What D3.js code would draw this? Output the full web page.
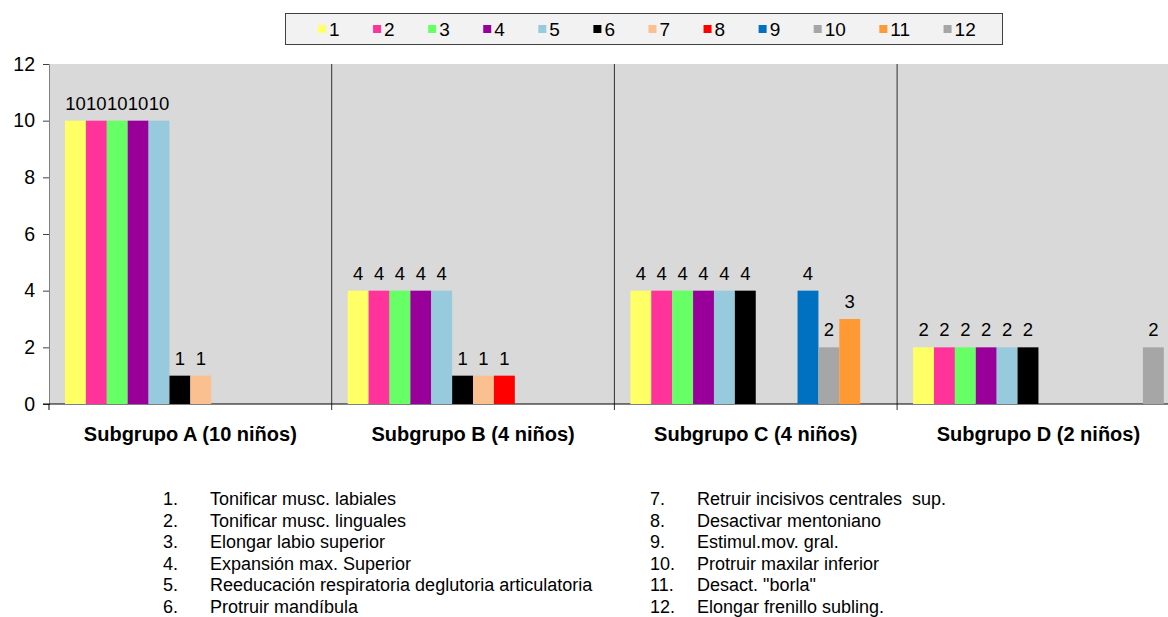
<!DOCTYPE html>
<html>
<head>
<meta charset="utf-8">
<script src="https://d3js.org/d3.v7.min.js"></script>
<style>
  body { margin: 0; background: #fff; }
  svg text { font-family: Arial, "Liberation Sans", sans-serif; fill: #000; white-space: pre; }
</style>
</head>
<body>
<script>
// chart data
const groups = ['Subgrupo A (10 niños)', 'Subgrupo B (4 niños)', 'Subgrupo C (4 niños)', 'Subgrupo D (2 niños)'];
const seriesNames = ['1','2','3','4','5','6','7','8','9','10','11','12'];
const seriesColors = ['#ffff66','#ff3399','#66ff66','#990099','#96cadc','#000000','#fac090','#ff0000','#0070c0','#a6a6a6','#ff9933','#a6a6a6'];
const valuesA = [10,10,10,10,10,1,1,0,0,0,0,0];
const valuesB = [4,4,4,4,4,1,1,1,0,0,0,0];
const valuesC = [4,4,4,4,4,4,0,0,4,2,3,0];
const valuesD = [2,2,2,2,2,2,0,0,0,0,0,2];
const yTicks = [0,2,4,6,8,10,12];
const notesLeft = ['Tonificar musc. labiales','Tonificar musc. linguales','Elongar labio superior','Expansión max. Superior','Reeducación respiratoria deglutoria articulatoria','Protruir mandíbula'];
const notesRight = ['Retruir incisivos centrales  sup.','Desactivar mentoniano','Estimul.mov. gral.','Protruir maxilar inferior','Desact. "borla"','Elongar frenillo subling.'];

const allValues = [valuesA, valuesB, valuesC, valuesD];

const W = 1168, H = 617;
const plotLeft = 49, plotTop = 64, plotBottom = 404, groupW = 282.7;

const svg = d3.select('body').append('svg').attr('width', W).attr('height', H);

const x = d3.scaleBand().domain(groups).range([plotLeft, plotLeft + groupW * groups.length]);
const xs = d3.scaleBand().domain(seriesNames).range([16, groupW - 16]);
const y = d3.scaleLinear().domain([0, 12]).range([plotBottom, plotTop]);

// plot background
svg.append('rect')
  .attr('x', plotLeft).attr('y', plotTop)
  .attr('width', groupW * groups.length).attr('height', plotBottom - plotTop)
  .attr('fill', '#d9d9d9');

// y axis
const yAxis = svg.append('g')
  .attr('transform', `translate(${plotLeft},0)`)
  .call(d3.axisLeft(y).tickValues(yTicks).tickSize(6).tickPadding(8));
yAxis.select('.domain').attr('stroke', '#808080');
yAxis.selectAll('.tick line').attr('stroke', '#404040');
yAxis.selectAll('.tick text').style('font-size', '19.5px').attr('fill', '#000');

// group separators
svg.append('g').selectAll('line')
  .data(groups.slice(1))
  .join('line')
  .attr('x1', d => x(d)).attr('x2', d => x(d))
  .attr('y1', plotTop).attr('y2', plotBottom + 6)
  .attr('stroke', '#303030');

// baseline
svg.append('line')
  .attr('x1', plotLeft - 6).attr('x2', W)
  .attr('y1', plotBottom).attr('y2', plotBottom)
  .attr('stroke', '#000');
svg.append('line')
  .attr('x1', plotLeft).attr('x2', plotLeft)
  .attr('y1', plotBottom).attr('y2', plotBottom + 6)
  .attr('stroke', '#000');

// bars
const gGroups = svg.append('g').selectAll('g')
  .data(groups)
  .join('g')
  .attr('transform', d => `translate(${x(d)},0)`);

gGroups.each(function(g, gi) {
  const vals = allValues[gi].map((v, i) => ({ s: seriesNames[i], v: v, c: seriesColors[i] })).filter(d => d.v > 0);
  const sel = d3.select(this);
  sel.selectAll('rect')
    .data(vals)
    .join('rect')
    .attr('x', d => xs(d.s))
    .attr('y', d => y(d.v))
    .attr('width', xs.bandwidth())
    .attr('height', d => y(0) - y(d.v))
    .attr('fill', d => d.c);
  sel.selectAll('text')
    .data(vals)
    .join('text')
    .attr('x', d => xs(d.s) + xs.bandwidth() / 2)
    .attr('y', d => y(d.v) - 11)
    .attr('text-anchor', 'middle')
    .style('font-size', '18.5px')
    .text(d => d.v);
});

// category labels
svg.append('g').selectAll('text')
  .data(groups)
  .join('text')
  .attr('x', d => x(d) + groupW / 2)
  .attr('y', 441)
  .attr('text-anchor', 'middle')
  .style('font-size', '20px')
  .style('font-weight', 'bold')
  .text(d => d);

// legend
const legend = svg.append('g');
legend.append('rect')
  .attr('x', 285.5).attr('y', 13.5).attr('width', 717).attr('height', 31)
  .attr('fill', '#f2f2f2').attr('stroke', '#404040');
let lx = 318;
seriesNames.forEach((s, i) => {
  legend.append('rect')
    .attr('x', lx).attr('y', 25).attr('width', 8).attr('height', 8)
    .attr('fill', seriesColors[i]);
  const t = legend.append('text')
    .attr('x', lx + 11).attr('y', 36)
    .style('font-size', '19px')
    .text(s);
  lx += 11 + t.node().getComputedTextLength() + 33.5;
});

// notes
const notes = svg.append('g').style('font-size', '18px');
notesLeft.forEach((n, i) => {
  notes.append('text').attr('x', 163).attr('y', 505 + i * 21.6).text((i + 1) + '.');
  notes.append('text').attr('x', 210).attr('y', 505 + i * 21.6).text(n);
});
notesRight.forEach((n, i) => {
  notes.append('text').attr('x', 650).attr('y', 505 + i * 21.6).text((i + 7) + '.');
  notes.append('text').attr('x', 697).attr('y', 505 + i * 21.6).text(n);
});
</script>
</body>
</html>
